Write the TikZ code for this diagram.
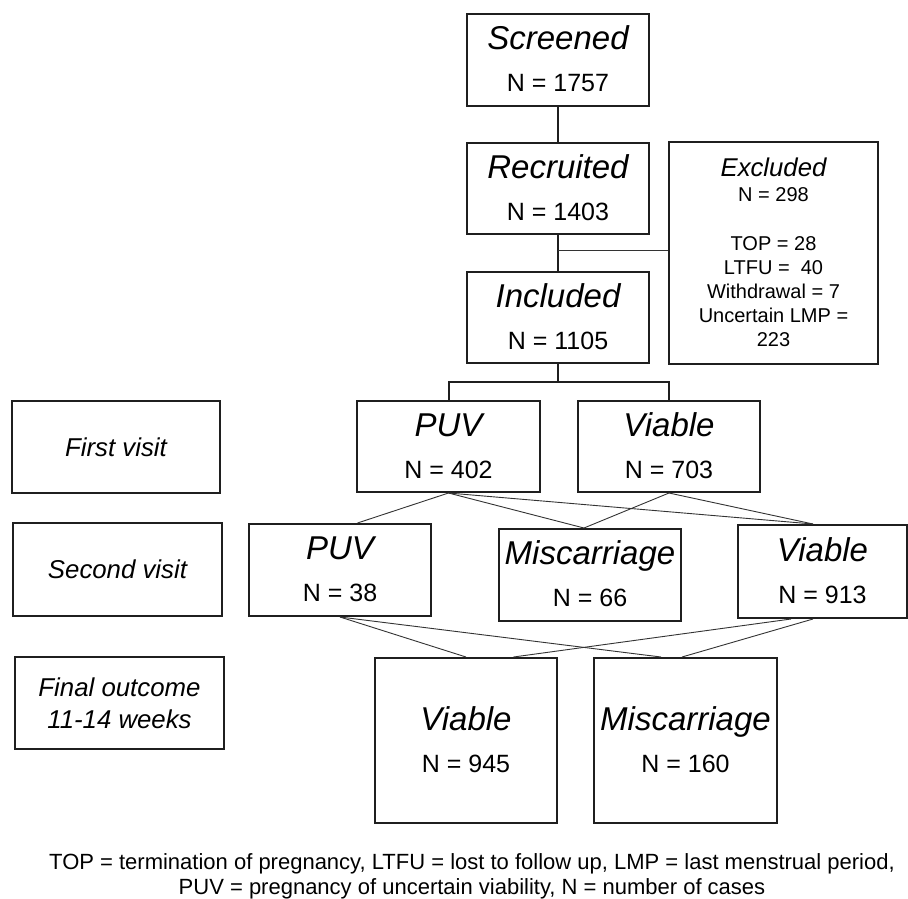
\documentclass[tikz,border=0pt]{standalone}
\usepackage{fontspec}
\setmainfont{Liberation Sans}
\usetikzlibrary{calc}
\tikzset{
  box/.style={draw=black!88, line width=2pt, inner sep=0pt, fill=white},
  ttl/.style={font=\fontsize{33}{36}\selectfont\itshape, anchor=base, inner sep=0pt},
  num/.style={font=\fontsize{25}{28}\selectfont, anchor=base, inner sep=0pt},
  lbl/.style={font=\fontsize{25.8}{32}\selectfont\itshape, align=center, inner sep=0pt},
  exctxt/.style={font=\fontsize{20}{24}\selectfont, align=center, inner sep=0pt},
  trunk/.style={draw=black!88, line width=2pt},
  conn/.style={draw=black!80, line width=0.9pt},
  capt/.style={font=\fontsize{22}{26}\selectfont, anchor=base, inner sep=0pt}
}
\newcommand{\cbox}[7]{%
  \node[box, minimum width=#4pt, minimum height=#5pt] (#1) at (#2,#3) {};
  \node[ttl] (#1-t) at ([yshift=10.2pt]#1.center) {#6};
  \node[num] (#1-n) at ([yshift=-31.5pt]#1.center) {N = #7};
}
\begin{document}
\begin{tikzpicture}[x=1pt,y=-1pt]
\useasboundingbox[fill=white] (0,0) rectangle (908,898);

% main column
\cbox{scr}{558}{60}{182}{92}{Screened}{1757}
\cbox{rec}{558}{188.5}{182}{91}{Recruited}{1403}
\cbox{inc}{558}{317.5}{182}{91}{Included}{1105}

% excluded
\node[box, minimum width=209pt, minimum height=222pt] (exc) at (773.5,253) {};
\node[font=\fontsize{25.7}{28}\selectfont\itshape, inner sep=0pt] (exc-t) at (773.5,167.5) {Excluded};
\node[exctxt] (exc-n) at (773.5,195) {N = 298};
\node[exctxt, anchor=north] (exc-l) at (773.5,236) {TOP = 28\\LTFU = \ 40\\Withdrawal = 7\\Uncertain LMP =\\223};

% row labels
\node[box, minimum width=208pt, minimum height=92pt] (fvl) at (116,447) {};
\node[lbl] (fvl-t) at (fvl.center) {First visit};
\node[box, minimum width=209pt, minimum height=93pt] (svl) at (117.5,569.5) {};
\node[lbl] (svl-t) at (svl.center) {Second visit};
\node[box, minimum width=209pt, minimum height=92pt] (fol) at (119.5,703) {};
\node[lbl] (fol-t) at (fol.center) {Final outcome\\11-14 weeks};

% first visit
\cbox{puv1}{448.5}{446.5}{183}{91}{PUV}{402}
\cbox{via1}{669}{446.5}{182}{91}{Viable}{703}

% second visit
\cbox{puv2}{340}{570}{182}{92}{PUV}{38}
\cbox{mis2}{590}{575}{182}{92}{Miscarriage}{66}
\cbox{via2}{822.5}{571.5}{169}{93}{Viable}{913}

% final
\node[box, minimum width=182pt, minimum height=165pt] (fvia) at (466,740.5) {};
\node[ttl] (fvia-t) at ([yshift=9.7pt]fvia.center) {Viable};
\node[num] (fvia-n) at ([yshift=-32pt]fvia.center) {N = 945};
\node[box, minimum width=183pt, minimum height=165pt] (fmis) at (685.5,740.5) {};
\node[ttl] (fmis-t) at ([yshift=9.7pt]fmis.center) {Miscarriage};
\node[num] (fmis-n) at ([yshift=-32pt]fmis.center) {N = 160};

% trunk connectors
\coordinate (ej) at (558,250);
\coordinate (bar) at (558,382);
\draw[trunk] (scr.south) -- (rec.north);
\draw[trunk] (rec.south) -- (inc.north);
\draw[conn] (ej) -- (ej -| exc.west);
\draw[trunk] (inc.south) -- (bar);
\draw[trunk] (puv1.north) |- (bar) -| (via1.north);

% first -> second
\draw[conn] (puv1.south) -- ([xshift=17.5pt]puv2.north);
\draw[conn] (puv1.south) -- ([xshift=-6pt]mis2.north);
\draw[conn] (puv1.south) -- ([xshift=-9.5pt]via2.north);
\draw[conn] (via1.south) -- ([xshift=-6pt]mis2.north);
\draw[conn] (via1.south) -- ([xshift=-9.5pt]via2.north);

% second -> final
\draw[conn] (puv2.south) -- (fvia.north);
\draw[conn] (puv2.south) -- ([xshift=-24.5pt]fmis.north);
\draw[conn] ([xshift=-31.5pt]via2.south) -- ([xshift=47.5pt]fvia.north);
\draw[conn] ([xshift=-9.5pt]via2.south) -- ([xshift=-3.5pt]fmis.north);

% caption
\node[capt] (cap1) at (472,869) {TOP = termination of pregnancy, LTFU = lost to follow up, LMP = last menstrual period,};
\node[capt] (cap2) at (472,894) {PUV = pregnancy of uncertain viability, N = number of cases};
\end{tikzpicture}
\end{document}
